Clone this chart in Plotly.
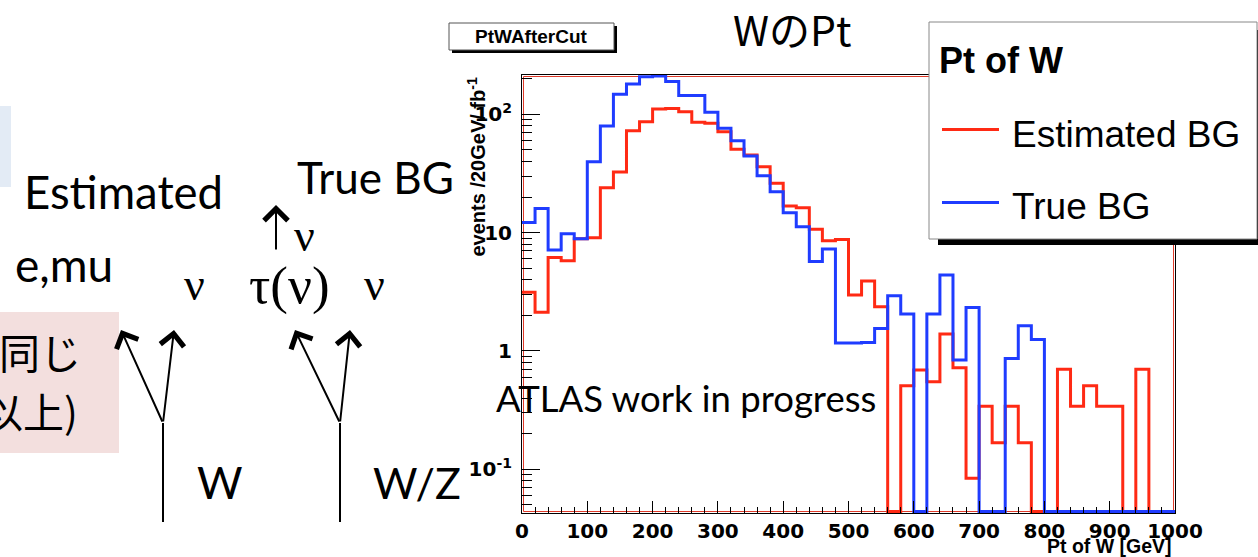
import plotly.graph_objects as go

# ---------------- data ----------------
bin_edges = list(range(0, 1001, 20))          # Pt of W [GeV], 20 GeV bins
estimated_bg = [3.14, 2.12, 6.17, 5.8, 8.9, 9.06, 24.0, 32.5, 72.6, 86.5,
                111, 112, 105, 85.5, 84, 71.3, 50.6, 45.3, 36.1, 26.1,
                16.8, 16.2, 10.7, 8.55, 8.77, 2.97, 3.9, 2.37, 0, 0.508,
                0.69, 0.55, 1.39, 0.72, 0.084, 0.342, 0.168, 0.342, 0.168, 0,
                0, 0.70, 0.342, 0.508, 0.342, 0.342, 0, 0.70, 0, 0]
true_bg = [12.2, 16.0, 7.13, 9.8, 8.9, 39.7, 79.6, 148, 180, 208,
           211, 189, 144, 144, 104, 76.2, 59.8, 44.5, 30.3, 22.2,
           14.7, 11.2, 5.71, 7.26, 1.17, 1.17, 1.18, 1.55, 2.93, 2.05,
           0, 2.05, 4.38, 0.838, 2.33, 0, 0, 0.865, 1.63, 1.25,
           0, 0, 0, 0, 0, 0, 0, 0, 0, 0]
series_names = ["Estimated BG", "True BG"]
x_ticks = [0, 100, 200, 300, 400, 500, 600, 700, 800, 900, 1000]
y_tickvals = [0.1, 1, 10, 100]
y_ticktext = ["10<sup>-1</sup>", "1", "10", "10<sup>2</sup>"]
y_minor = [0.05, 0.06, 0.07, 0.08, 0.09, 0.2, 0.3, 0.4, 0.5, 0.6, 0.7, 0.8, 0.9,
           2, 3, 4, 5, 6, 7, 8, 9, 20, 30, 40, 50, 60, 70, 80, 90, 200]

# ---------------- geometry ----------------
FW, FH = 1258, 557
ML, MR, MT, MB = 522, 83, 75, 44
PW, PH = FW - ML - MR, FH - MT - MB
YLOG = [-1.369, 2.332]
floor_val = 10 ** (YLOG[0] + 0.012)


def X(px):
    return (px - ML) / PW


def Y(py):
    return (FH - MB - py) / PH


RED = "#ff2a14"
BLUE = "#1f3cff"


def step_y(vals):
    v = [val if val > 0 else floor_val for val in vals]
    return v + [v[-1]]


fig = go.Figure()
for name, vals, col in [(series_names[0], estimated_bg, RED),
                        (series_names[1], true_bg, BLUE)]:
    fig.add_trace(go.Scatter(x=bin_edges, y=step_y(vals), mode="lines",
                             line=dict(color=col, width=3, shape="hv"),
                             name=name, showlegend=False))

tick_font = dict(family="DejaVu Sans", size=20, color="black", weight="bold")
fig.update_layout(
    width=FW, height=FH,
    margin=dict(l=ML, r=MR, t=MT, b=MB, autoexpand=False),
    paper_bgcolor="white", plot_bgcolor="white", showlegend=False,
    xaxis=dict(range=[0, 1000], showgrid=False, zeroline=False,
               tickvals=x_ticks, ticks="inside", ticklen=12, tickcolor="black",
               minor=dict(ticks="inside", dtick=20, tick0=0, ticklen=6, tickcolor="black"),
               showline=True, linecolor="black", mirror=True,
               tickfont=tick_font, ticklabelstandoff=0),
    yaxis=dict(type="log", range=YLOG, showgrid=False, zeroline=False,
               tickvals=y_tickvals, ticktext=y_ticktext, ticks="inside",
               ticklen=18, tickcolor="black",
               minor=dict(tickvals=y_minor, ticks="inside", ticklen=10, tickcolor="black"),
               showline=True, linecolor="black", mirror=True,
               tickfont=tick_font, ticklabelstandoff=5),
)

shapes = []
anns = []


def rect(x0, y0, x1, y1, fill=None, line=None, lw=1):
    shapes.append(dict(type="rect", xref="paper", yref="paper",
                       x0=X(x0), x1=X(x1), y0=Y(y1), y1=Y(y0),
                       fillcolor=fill if fill else "rgba(0,0,0,0)",
                       line=dict(color=line if line else "rgba(0,0,0,0)", width=lw if line else 0),
                       layer="above"))


def seg(x0, y0, x1, y1, col="black", w=2):
    shapes.append(dict(type="line", xref="paper", yref="paper",
                       x0=X(x0), x1=X(x1), y0=Y(y0), y1=Y(y1),
                       line=dict(color=col, width=w), layer="above"))


def text(t, px, py, size, family="Lato", xanchor="left", yanchor="middle",
         weight="normal", angle=0):
    anns.append(dict(text=t, x=X(px), y=Y(py), xref="paper", yref="paper",
                     showarrow=False, xanchor=xanchor, yanchor=yanchor,
                     textangle=angle,
                     font=dict(family=family, size=size, color="black", weight=weight)))


def arrow(tx, ty, hx, hy):
    anns.append(dict(text="", x=X(hx), y=Y(hy), xref="paper", yref="paper",
                     ax=tx - hx, ay=ty - hy, showarrow=True, arrowhead=4,
                     arrowsize=2.3, arrowwidth=2, arrowcolor="black",
                     standoff=0, startstandoff=0))


# inner red frame
shapes.append(dict(type="rect", xref="paper", yref="paper",
                   x0=1.5 / PW, x1=1 - 1.5 / PW, y0=1.5 / PH, y1=1 - 1.5 / PH,
                   line=dict(color="#e03a2a", width=1), layer="below"))

# slide background boxes
rect(-2, 106, 11, 187, fill="#e3ebf5")
rect(-2, 312, 119, 453, fill="#f3dfde")

# axis titles
text("<b>events /20GeV/ fb<sup>-1</sup></b>", 476, 76, 20, family="Liberation Sans",
     xanchor="center", yanchor="top", angle=-90)
text("<b>Pt of W [GeV]</b>", 1174, 545.5, 19.5, family="Liberation Sans",
     xanchor="right", yanchor="middle")

# histogram name box
rect(452, 26, 617, 53, fill="black")
rect(449, 23, 614, 50, fill="white", line="#555555", lw=1)
text("<b>PtWAfterCut</b>", 531, 37, 19, family="Liberation Sans", xanchor="center")

# legend
rect(938, 30, 1266, 245, fill="black")
rect(929, 22, 1257, 239, fill="white", line="#888888", lw=1)
text("<b>Pt of W</b>", 937, 60, 36, family="Liberation Sans")
seg(942, 129.5, 999, 129.5, col=RED, w=3)
seg(942, 202.5, 999, 202.5, col=BLUE, w=3)
text(series_names[0], 1010, 134, 37, family="Liberation Sans")
text(series_names[1], 1010, 206, 37, family="Liberation Sans")

# slide texts
text("WのPt", 731, 28, 41, family="Noto Sans CJK JP")
text("ATLAS work in progress", 494, 398, 36.5)
text("Estimated", 22, 191, 45.5)
text("True BG", 295, 177, 44)
text("e,mu", 13, 264, 46)
text("W", 195, 482, 44)
text("W/Z", 371, 482, 43)
text("ν", 182, 284, 46, family="Liberation Serif")
text("τ(ν)", 247, 285, 53, family="Liberation Serif")
text("ν", 362, 284, 46, family="Liberation Serif")
text("ν", 292, 235, 46, family="Liberation Serif")
text("同じ", -3, 351, 41, family="Noto Sans CJK JP")
text("以上)", 80, 410, 41, family="Noto Sans CJK JP", xanchor="right")

# diagram lines and arrows
seg(163, 522, 163, 423, w=2)
seg(340, 522, 340, 423, w=2)
arrow(163, 423, 121, 330)
arrow(163, 423, 174, 330)
arrow(340, 423, 295, 330)
arrow(340, 423, 350, 330)
arrow(276, 251, 276, 205)

fig.update_layout(shapes=shapes, annotations=anns)
fig.write_html("out.html")
